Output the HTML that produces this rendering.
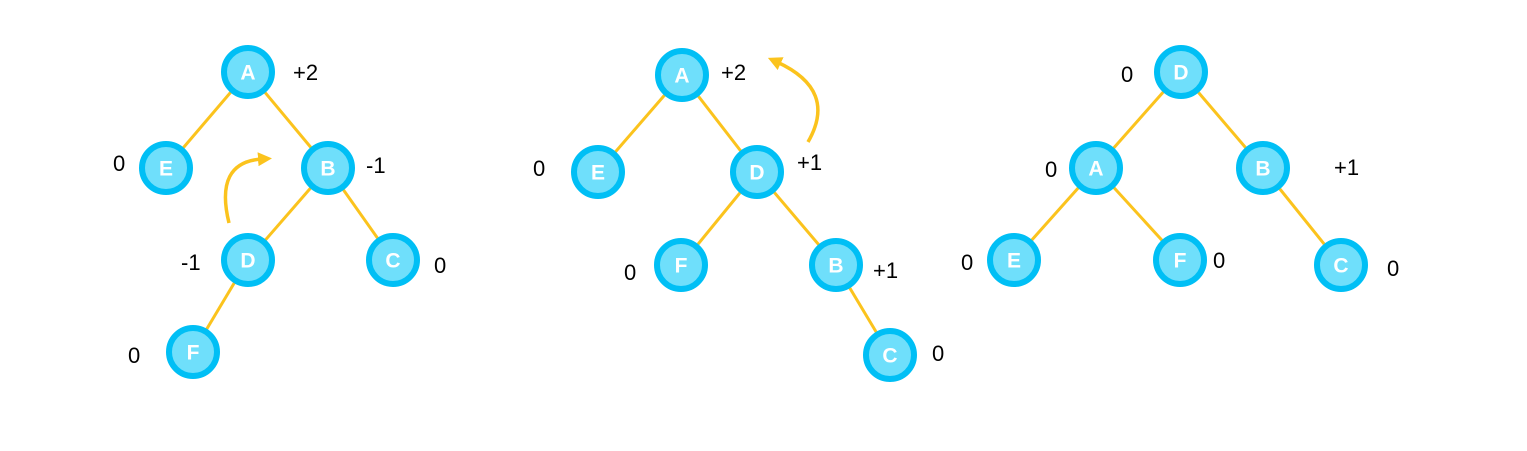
<!DOCTYPE html>
<html><head><meta charset="utf-8"><style>
html,body{margin:0;padding:0;background:#fff;}
svg{display:block;}
.lbl{font-family:"Liberation Sans",sans-serif;font-size:22px;fill:#000;}
.nt{font-family:"Liberation Sans",sans-serif;font-size:21px;font-weight:bold;fill:#fff;}
</style></head><body>
<svg width="1527" height="451" viewBox="0 0 1527 451">
<defs><marker id="ah" markerWidth="14" markerHeight="14" refX="4" refY="7" orient="auto" markerUnits="userSpaceOnUse"><path d="M0,0 L14,7 L0,14 z" fill="#fbc31d"/></marker></defs>
<g id="edges" stroke="#fbc31d" stroke-width="3" fill="none"></g>
<path d="M229,223 Q214,162 262,159" stroke="#fbc31d" stroke-width="3.5" fill="none" marker-end="url(#ah)"/>
<path d="M808,142 Q838,90 777,62" stroke="#fbc31d" stroke-width="3.5" fill="none" marker-end="url(#ah)"/>
<g id="nodes"></g>
<g id="labels"></g>
</svg>
<script>
const nodeNames=["A","E","B","D","C","F","A","E","D","F","B","C","D","A","B","E","F","C"];
const nodeX=[248,166,328,248,393,193,682,598,757,681,836,890,1181,1096,1263,1014,1180,1341];
const nodeY=[72,168,168,260,260,352,75,172,172,265,265,355,72,168,168,260,260,265];
const edgeFrom=[0,0,2,2,3,6,6,8,8,10,12,12,13,13,14];
const edgeTo=[1,2,3,4,5,7,8,9,10,11,13,14,15,16,17];
const balTexts=["+2","0","-1","-1","0","0","+2","0","+1","0","+1","0","0","0","+1","0","0","0"];
const balX=[293,113,366,181,434,128,721,533,797,624,873,932,1121,1045,1334,961,1213,1387];
const balY=[80,171,173,270,273,363,80,176,170,280,278,361,82,177,175,270,268,276];
const NS="http://www.w3.org/2000/svg";
const eg=document.getElementById('edges'),ng=document.getElementById('nodes'),lg=document.getElementById('labels');
for(let i=0;i<edgeFrom.length;i++){
 const l=document.createElementNS(NS,'line');
 l.setAttribute('x1',nodeX[edgeFrom[i]]);l.setAttribute('y1',nodeY[edgeFrom[i]]);
 l.setAttribute('x2',nodeX[edgeTo[i]]);l.setAttribute('y2',nodeY[edgeTo[i]]);
 
 
 eg.appendChild(l);
}
for(let i=0;i<nodeNames.length;i++){
 const g=document.createElementNS(NS,'g');
 
 
 const c=document.createElementNS(NS,'circle');
 c.setAttribute('cx',nodeX[i]);c.setAttribute('cy',nodeY[i]);c.setAttribute('r',24);
 c.setAttribute('fill','#6fdffb');c.setAttribute('stroke','#00bff5');c.setAttribute('stroke-width',6);
 g.appendChild(c);
 const t=document.createElementNS(NS,'text');
 t.setAttribute('x',nodeX[i]);t.setAttribute('y',nodeY[i]+7.5);t.setAttribute('text-anchor','middle');
 t.setAttribute('class','nt');t.textContent=nodeNames[i];
 g.appendChild(t);
 ng.appendChild(g);
}
for(let i=0;i<balTexts.length;i++){
 const t=document.createElementNS(NS,'text');
 t.setAttribute('x',balX[i]);t.setAttribute('y',balY[i]);t.setAttribute('class','lbl');
 t.textContent=balTexts[i];
 
 
 lg.appendChild(t);
}
</script>
</body></html>
